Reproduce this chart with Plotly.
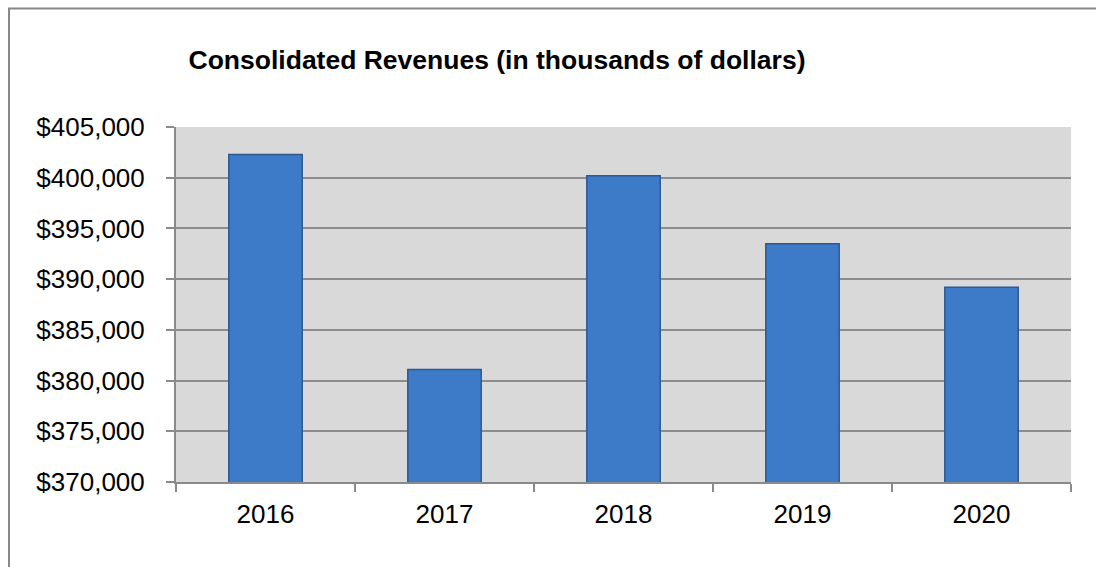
import plotly.graph_objects as go

years = ["2016", "2017", "2018", "2019", "2020"]
revenues = [402300, 381100, 400200, 393500, 389200]
y_ticks = [370000, 375000, 380000, 385000, 390000, 395000, 400000, 405000]
y_tick_labels = ["$370,000", "$375,000", "$380,000", "$385,000",
                 "$390,000", "$395,000", "$400,000", "$405,000"]
title_text = "Consolidated Revenues (in thousands of dollars)"

W, H = 1096, 567
L, R, T, B = 176, 25, 127, 85
pw, ph = W - L - R, H - T - B

def px_x(p):
    return (p - L) / pw

def px_y(p):
    return (H - B - p) / ph

fig = go.Figure()
fig.add_trace(go.Bar(
    x=years, y=revenues,
    marker=dict(color="#3d7bc8", line=dict(color="#2b5993", width=1.5)),
    width=0.41,
))

fig.update_layout(
    width=W, height=H,
    margin=dict(l=L, r=R, t=T, b=B),
    paper_bgcolor="white",
    plot_bgcolor="#d9d9d9",
    showlegend=False,
    font=dict(family="Liberation Sans, Arial, sans-serif", size=26, color="black"),
    title=dict(
        text="<b>" + title_text + "</b>",
        x=497 / W, xref="container", xanchor="center",
        y=1 - 60 / H, yref="container", yanchor="middle",
        font=dict(size=26.5, color="black", family="Liberation Sans, Arial, sans-serif"),
    ),
    xaxis=dict(
        type="category",
        showgrid=False,
        showline=True, linecolor="#8a8a8a", linewidth=2,
        ticks="outside", tickson="boundaries", ticklen=8, tickwidth=1.5, tickcolor="#8a8a8a",
        ticklabelstandoff=8,
        tickfont=dict(size=26),
    ),
    yaxis=dict(
        range=[370000, 405000],
        tickvals=y_ticks, ticktext=y_tick_labels,
        showgrid=True, gridcolor="#8c8c8c", gridwidth=2,
        showline=True, linecolor="#8a8a8a", linewidth=2,
        ticks="outside", ticklen=8, tickwidth=1.5, tickcolor="#8a8a8a",
        ticklabelstandoff=16,
        zeroline=False,
        tickfont=dict(size=26),
    ),
    bargap=0.59,
)

# outer chart border (top and left visible)
fig.add_shape(type="rect", xref="paper", yref="paper",
              x0=px_x(9), x1=px_x(1200), y0=px_y(700), y1=px_y(8.5),
              line=dict(color="#888888", width=2), fillcolor="rgba(0,0,0,0)", layer="above")

fig.write_html("out.html", config={"displayModeBar": False})

with open("out.html", "r", encoding="utf-8") as f:
    html = f.read()
html = html.replace("<body>", '<body style="margin:0;overflow:hidden">', 1)
with open("out.html", "w", encoding="utf-8") as f:
    f.write(html)
